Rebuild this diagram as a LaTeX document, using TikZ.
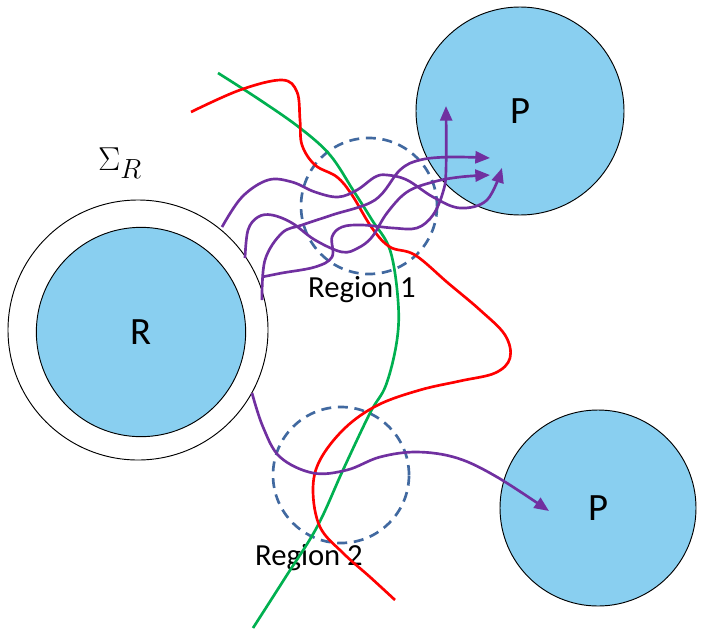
\documentclass[tikz,border=0pt]{standalone}
\usepackage{fontspec}
\setmainfont{Carlito}
\usepackage{tikz}
\usetikzlibrary{arrows.meta}

\definecolor{fillblue}{RGB}{137,207,240}
\definecolor{dashblue}{RGB}{65,105,160}
\definecolor{trgreen}{RGB}{0,176,80}
\definecolor{trpurple}{RGB}{112,48,160}

\tikzset{
  ball/.style={circle,draw=black,line width=0.7pt,fill=fillblue,inner sep=0pt,font=\fontsize{29}{30}\selectfont},
  region/.style={circle,draw=dashblue,line width=2pt,dash pattern=on 7.5pt off 5pt,inner sep=0pt,minimum size=102pt},
  path/.style={trpurple,line width=2pt,->},
  label/.style={font=\fontsize{23}{24}\selectfont}
}

\begin{document}
\begin{tikzpicture}[x=0.75pt,y=-0.75pt,>={Triangle[length=11pt,width=9pt]}]
      \useasboundingbox (0,0) rectangle (702,628);
      \node[circle,draw=black,line width=0.7pt,inner sep=0pt,minimum size=195pt] (SR) at (138,330) {};
      \node[ball,minimum size=157pt] (R) at (141,332) {R};
      \node[ball,minimum size=156pt] (P1) at (520,111) {P};
      \node[ball,minimum size=147pt] (P2) at (598,508) {P};
      \node[font=\fontsize{28}{29}\selectfont] (sig) at (120,163) {$\Sigma_R$};

      \node[region] (reg1) at (369,206) {};
      \node[region] (reg2) at (341,475) {};
      \node[label] (lab1) at (362,290) {Region 1};
      \node[label] (lab2) at (309,558) {Region 2};

      \draw[trgreen,line width=2pt] plot[smooth,tension=0.6] coordinates {(218,73) (260,100) (300,128) (330,155) (353,190) (372,220) (390,250) (398,300) (397,340) (386,385) (370,413) (343,470) (317,527) (285,578) (253,628)};
      \draw[red,line width=2pt] plot[smooth,tension=0.6] coordinates {(191,112) (240,90) (282,80) (297,92) (300,120) (302,145) (315,165) (337,177) (352,195) (372,228) (390,247) (415,255) (448,283) (480,310) (505,335) (510,358) (495,373) (460,381) (420,390) (378,405) (345,428) (320,460) (313,490) (320,527) (343,553) (370,577) (395,600)};

      \draw[path] plot[smooth,tension=0.6] coordinates {(222,227) (242,197) (268,180) (292,182) (315,192) (338,197) (357,190) (375,177) (387,175) (407,180) (433,197) (460,208) (487,200) (502,168)};
      \draw[path] plot[smooth,tension=0.6] coordinates {(245,258) (248,230) (258,217) (272,215) (292,223) (315,240) (342,252) (358,248) (372,237) (387,213) (407,192) (433,182) (460,177) (490,175)};
      \draw[path] plot[smooth,tension=0.6] coordinates {(262,300) (265,260) (282,233) (302,225) (332,215) (375,200) (400,170) (420,160) (450,157) (490,158)};
      \draw[path] plot[smooth,tension=0.6] coordinates {(262,277) (282,273) (315,267) (332,257) (332,237) (342,227) (362,225) (393,228) (417,228) (433,215) (443,192) (446,170) (446,106)};
      \draw[path] plot[smooth,tension=0.6] coordinates {(252,393) (263,427) (280,457) (313,473) (347,470) (380,457) (417,452) (457,458) (497,477) (549,511)};
    \end{tikzpicture}
\end{document}
